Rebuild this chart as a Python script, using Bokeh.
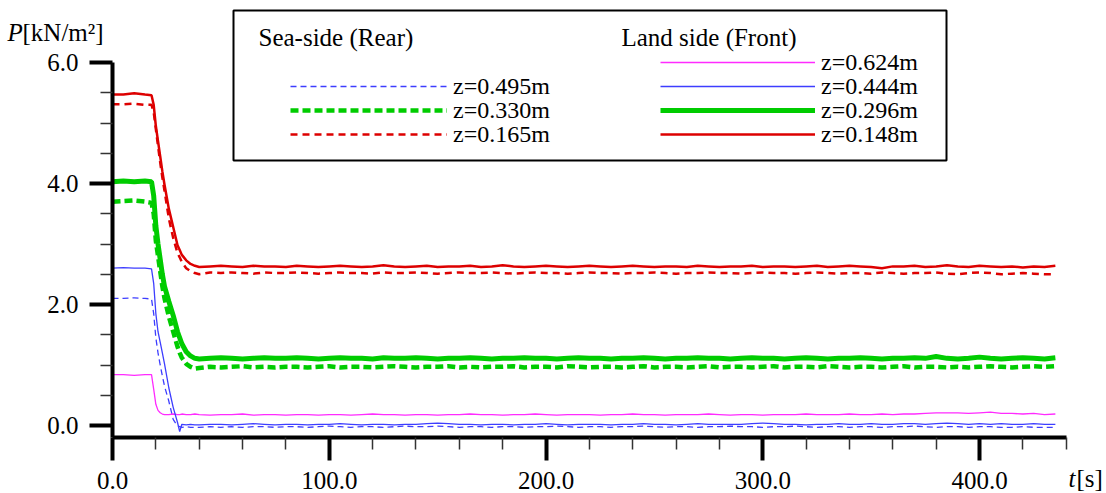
from bokeh.plotting import figure
from bokeh.models import (Range1d, FixedTicker, PrintfTickFormatter, Label, Legend,
                          LegendItem, BoxAnnotation, ColumnDataSource)
from bokeh.embed import file_html
from bokeh.resources import INLINE

# ---- data -------------------------------------------------------------
t_early = [0, 5, 10, 15, 18, 19, 20, 21, 22, 23, 24, 26, 28, 30, 31, 32, 34, 36, 38]
t_steady = list(range(40, 440, 5))
t = t_early + t_steady

land_0148 = [5.47, 5.47, 5.49, 5.47, 5.46, 5.30, 4.95, 4.70, 4.45, 4.20, 3.98, 3.58, 3.28, 2.98, 2.90, 2.82, 2.73, 2.67, 2.64,
             2.62, 2.63, 2.64, 2.63, 2.62, 2.64, 2.63, 2.63, 2.62, 2.64,
             2.63, 2.62, 2.63, 2.64, 2.63, 2.62, 2.63, 2.65, 2.63, 2.62,
             2.63, 2.64, 2.62, 2.63, 2.63, 2.64, 2.62, 2.63, 2.65, 2.63,
             2.62, 2.63, 2.64, 2.63, 2.62, 2.63, 2.64, 2.63, 2.62, 2.63,
             2.64, 2.63, 2.62, 2.63, 2.63, 2.62, 2.64, 2.63, 2.62, 2.63,
             2.63, 2.64, 2.62, 2.63, 2.63, 2.62, 2.63, 2.64, 2.62, 2.63,
             2.64, 2.63, 2.62, 2.60, 2.63, 2.63, 2.64, 2.62, 2.63, 2.65,
             2.63, 2.62, 2.64, 2.63, 2.62, 2.63, 2.61, 2.63, 2.62, 2.64]

sea_0165 = [5.31, 5.31, 5.32, 5.30, 5.30, 5.18, 4.90, 4.62, 4.35, 4.10, 3.88, 3.42, 3.10, 2.85, 2.78, 2.70, 2.60, 2.55, 2.52,
            2.50, 2.53, 2.52, 2.53, 2.52, 2.51, 2.53, 2.52, 2.52, 2.53,
            2.52, 2.51, 2.52, 2.53, 2.52, 2.52, 2.51, 2.53, 2.52, 2.52,
            2.53, 2.52, 2.51, 2.52, 2.53, 2.52, 2.52, 2.53, 2.52, 2.51,
            2.52, 2.53, 2.52, 2.52, 2.51, 2.52, 2.53, 2.52, 2.52, 2.51,
            2.52, 2.52, 2.53, 2.52, 2.51, 2.52, 2.52, 2.53, 2.52, 2.52,
            2.51, 2.52, 2.53, 2.52, 2.52, 2.51, 2.52, 2.53, 2.52, 2.51,
            2.52, 2.52, 2.51, 2.53, 2.52, 2.51, 2.52, 2.52, 2.53, 2.51,
            2.50, 2.52, 2.53, 2.52, 2.50, 2.51, 2.52, 2.51, 2.50, 2.50]

land_0296 = [4.03, 4.04, 4.03, 4.04, 4.03, 3.80, 3.30, 3.00, 2.75, 2.50, 2.30, 2.05, 1.82, 1.55, 1.45, 1.35, 1.22, 1.15, 1.11,
             1.10, 1.11, 1.12, 1.11, 1.10, 1.11, 1.12, 1.11, 1.11, 1.12,
             1.11, 1.10, 1.11, 1.12, 1.11, 1.11, 1.10, 1.12, 1.11, 1.11,
             1.12, 1.11, 1.10, 1.11, 1.11, 1.12, 1.11, 1.10, 1.11, 1.11,
             1.12, 1.11, 1.11, 1.10, 1.11, 1.12, 1.11, 1.11, 1.10, 1.11,
             1.11, 1.12, 1.11, 1.10, 1.11, 1.11, 1.12, 1.11, 1.11, 1.10,
             1.11, 1.12, 1.11, 1.11, 1.10, 1.11, 1.12, 1.11, 1.10, 1.11,
             1.11, 1.12, 1.11, 1.10, 1.11, 1.11, 1.12, 1.11, 1.14, 1.11,
             1.10, 1.11, 1.13, 1.11, 1.10, 1.11, 1.12, 1.11, 1.10, 1.12]

sea_0330 = [3.70, 3.71, 3.72, 3.70, 3.68, 3.50, 3.05, 2.80, 2.55, 2.30, 2.10, 1.80, 1.55, 1.30, 1.20, 1.12, 1.02, 0.97, 0.94,
            0.95, 0.97, 0.96, 0.97, 0.98, 0.96, 0.97, 0.96, 0.97, 0.97,
            0.96, 0.97, 0.98, 0.96, 0.97, 0.97, 0.96, 0.97, 0.98, 0.97,
            0.96, 0.97, 0.97, 0.98, 0.96, 0.97, 0.96, 0.97, 0.97, 0.98,
            0.96, 0.97, 0.97, 0.96, 0.98, 0.97, 0.96, 0.97, 0.97, 0.96,
            0.97, 0.98, 0.96, 0.97, 0.97, 0.96, 0.97, 0.98, 0.96, 0.97,
            0.97, 0.96, 0.97, 0.98, 0.96, 0.97, 0.97, 0.96, 0.98, 0.97,
            0.96, 0.97, 0.97, 0.96, 0.97, 0.98, 0.96, 0.97, 0.97, 0.96,
            0.97, 0.96, 0.97, 0.98, 0.97, 0.96, 0.97, 0.98, 0.97, 0.98]

land_0444 = [2.60, 2.61, 2.60, 2.60, 2.59, 2.35, 1.85, 1.55, 1.38, 1.20, 1.02, 0.62, 0.30, 0.05, -0.10, 0.02, 0.01, 0.02, 0.01,
             0.01, 0.02, 0.02, 0.01, 0.02, 0.03, 0.02, 0.01, 0.02, 0.02,
             0.01, 0.02, 0.02, 0.03, 0.02, 0.01, 0.02, 0.02, 0.01, 0.02,
             0.02, 0.03, 0.04, 0.03, 0.02, 0.02, 0.01, 0.02, 0.02, 0.01,
             0.02, 0.02, 0.03, 0.02, 0.01, 0.02, 0.02, 0.02, 0.01, 0.02,
             0.02, 0.03, 0.02, 0.02, 0.01, 0.02, 0.03, 0.02, 0.02, 0.02,
             0.02, 0.03, 0.04, 0.03, 0.02, 0.02, 0.01, 0.02, 0.02, 0.03,
             0.02, 0.02, 0.03, 0.02, 0.02, 0.03, 0.03, 0.02, 0.03, 0.04,
             0.03, 0.02, 0.03, 0.02, 0.03, 0.02, 0.02, 0.03, 0.02, 0.02]

sea_0495 = [2.10, 2.10, 2.11, 2.10, 2.09, 1.85, 1.45, 1.20, 1.00, 0.82, 0.65, 0.40, 0.10, -0.01, -0.02, -0.03, -0.02, -0.03, -0.03,
            -0.03, -0.02, -0.03, -0.02, -0.03, -0.02, -0.02, -0.03, -0.02, -0.02,
            -0.03, -0.02, -0.01, -0.02, -0.03, -0.02, -0.02, -0.03, -0.02, -0.01,
            -0.02, -0.02, -0.01, -0.02, -0.03, -0.02, -0.02, -0.03, -0.02, -0.02,
            -0.03, -0.02, -0.02, -0.01, -0.02, -0.03, -0.02, -0.02, -0.03, -0.02,
            -0.02, -0.01, -0.02, -0.03, -0.02, -0.02, -0.03, -0.02, -0.02, -0.01,
            -0.02, -0.02, -0.03, -0.02, -0.02, -0.01, -0.02, -0.03, -0.02, -0.02,
            -0.03, -0.02, -0.02, -0.03, -0.02, -0.02, -0.01, -0.02, -0.03, -0.02,
            -0.02, -0.03, -0.02, -0.02, -0.03, -0.03, -0.02, -0.03, -0.03, -0.03]

land_0624 = [0.84, 0.84, 0.83, 0.84, 0.84, 0.60, 0.35, 0.25, 0.21, 0.19, 0.18, 0.18, 0.19, 0.18, 0.18, 0.19, 0.18, 0.18, 0.19,
             0.18, 0.17, 0.18, 0.18, 0.19, 0.17, 0.18, 0.18, 0.17, 0.18,
             0.18, 0.17, 0.18, 0.18, 0.17, 0.18, 0.19, 0.18, 0.18, 0.17,
             0.18, 0.18, 0.17, 0.18, 0.18, 0.19, 0.18, 0.18, 0.17, 0.18,
             0.18, 0.19, 0.18, 0.17, 0.18, 0.18, 0.18, 0.17, 0.18, 0.18,
             0.19, 0.18, 0.18, 0.17, 0.18, 0.18, 0.18, 0.19, 0.18, 0.17,
             0.18, 0.18, 0.17, 0.18, 0.18, 0.18, 0.19, 0.18, 0.18, 0.18,
             0.19, 0.18, 0.18, 0.19, 0.18, 0.19, 0.19, 0.20, 0.21, 0.21,
             0.21, 0.20, 0.21, 0.22, 0.20, 0.20, 0.19, 0.20, 0.18, 0.19]

x_major = [0, 100, 200, 300, 400]
x_minor = [20, 40, 60, 80, 120, 140, 160, 180, 220, 240, 260, 280, 320, 340, 360, 380, 420, 440]
y_major = [0, 2, 4, 6]
y_minor = [0.5, 1.0, 1.5, 2.5, 3.0, 3.5, 4.5, 5.0, 5.5]

# ---- layout (canvas pixels) -------------------------------------------
W, H = 1104, 493
X0_PX, PX_PER_S = 112, 2.1675      # t = 0 at canvas x 112
Y0_PX, PX_PER_KN = 425, 60.5       # P = 0 at canvas y 425 (from top)

FONT = "Liberation Serif"
RED, GREEN, BLUE, MAGENTA = "#DD0000", "#00CC00", "#3D3DFF", "#FF2BFF"

p = figure(width=W, height=H, output_backend="svg", toolbar_location=None,
           x_range=Range1d(-X0_PX / PX_PER_S, (W - X0_PX) / PX_PER_S),
           y_range=Range1d(-(H - Y0_PX) / PX_PER_KN, Y0_PX / PX_PER_KN),
           min_border_left=0, min_border_right=0, min_border_top=0, min_border_bottom=0)
p.outline_line_color = None
p.xgrid.visible = False
p.ygrid.visible = False
p.background_fill_color = "white"
p.border_fill_color = "white"

src = ColumnDataSource(dict(t=t, l148=land_0148, s165=sea_0165, l296=land_0296, s330=sea_0330,
                            l444=land_0444, s495=sea_0495, l624=land_0624))

r_s495 = p.line("t", "s495", source=src, line_color=BLUE, line_width=1.3, line_dash="6 4")
r_s330 = p.line("t", "s330", source=src, line_color=GREEN, line_width=4.5, line_dash="8 4")
r_s165 = p.line("t", "s165", source=src, line_color=RED, line_width=2.5, line_dash="7 5")
r_l624 = p.line("t", "l624", source=src, line_color=MAGENTA, line_width=1.3)
r_l444 = p.line("t", "l444", source=src, line_color=BLUE, line_width=1.3)
r_l296 = p.line("t", "l296", source=src, line_color=GREEN, line_width=5)
r_l148 = p.line("t", "l148", source=src, line_color=RED, line_width=2.5)

# axes pinned inside the canvas
x_axis_at = -0.198
for ax, major, minor in ((p.xaxis[0], x_major, x_minor), (p.yaxis[0], y_major, y_minor)):
    ax.ticker = FixedTicker(ticks=major, minor_ticks=minor)
    ax.formatter = PrintfTickFormatter(format="%.1f")
    ax.axis_line_width = 4
    ax.axis_line_color = "black"
    ax.major_tick_line_width = 4
    ax.major_tick_line_color = "black"
    ax.major_tick_in = 0
    ax.minor_tick_in = 0
    ax.minor_tick_line_width = 1.5
    ax.minor_tick_line_color = "#333333"
    ax.major_label_text_font = FONT
    ax.major_label_text_font_size = "25px"
    ax.major_label_text_color = "black"
    ax.axis_label = None

p.xaxis[0].fixed_location = x_axis_at
p.xaxis[0].bounds = (0, 440)
p.xaxis[0].major_tick_out = 23
p.xaxis[0].minor_tick_out = 12
p.xaxis[0].major_label_standoff = 12
p.yaxis[0].fixed_location = 0
p.yaxis[0].bounds = (x_axis_at, 6.0)
p.yaxis[0].major_tick_out = 23
p.yaxis[0].minor_tick_out = 12
p.yaxis[0].major_label_standoff = 11

# legend frame (screen px; y measured from the bottom of the canvas)
p.add_layout(BoxAnnotation(left=233, right=946, top=H - 10, bottom=H - 160,
                           left_units="screen", right_units="screen",
                           top_units="screen", bottom_units="screen",
                           fill_alpha=0, line_color="black", line_alpha=1, line_width=2))

def lab(x, y, text, style="normal", size="25px"):
    p.add_layout(Label(x=x, y=H - y, x_units="screen", y_units="screen", text=text,
                       text_font=FONT, text_font_size=size, text_font_style=style,
                       text_baseline="middle", text_color="black"))

lab(7, 32, "P", style="italic")
lab(22, 32, "[kN/m²]")
lab(258, 37, "Sea-side (Rear)", size="25px")
lab(621, 37, "Land side (Front)", size="25px")
lab(1068, 478, "t", style="italic")
lab(1076, 478, "[s]")

# one legend per row so every row sits exactly where the reference has it
ROW_H = 40
def legend_row(x, yc, label, renderer, glyph_w):
    leg = Legend(items=[LegendItem(label=label, renderers=[renderer])],
                 location=(x, H - yc - ROW_H / 2), glyph_width=glyph_w,
                 glyph_height=ROW_H, label_height=ROW_H,
                 border_line_alpha=0, background_fill_alpha=0, padding=0, margin=0, spacing=0,
                 label_text_font=FONT, label_text_font_size="24px", label_text_color="black",
                 label_standoff=6)
    p.add_layout(leg)

legend_row(290, 86, "z=0.495m", r_s495, 157)
legend_row(290, 110, "z=0.330m", r_s330, 157)
legend_row(290, 134, "z=0.165m", r_s165, 157)
legend_row(660, 62, "z=0.624m", r_l624, 155)
legend_row(660, 86, "z=0.444m", r_l444, 155)
legend_row(660, 110, "z=0.296m", r_l296, 155)
legend_row(660, 134, "z=0.148m", r_l148, 155)

open("out.html", "w").write(file_html(p, INLINE))
